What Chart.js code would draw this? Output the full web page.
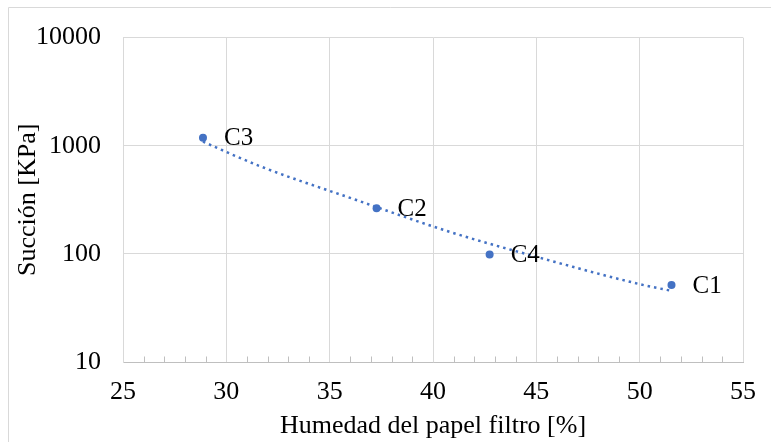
<!DOCTYPE html>
<html>
<head>
<meta charset="utf-8">
<script src="https://cdn.jsdelivr.net/npm/chart.js@4/dist/chart.umd.min.js"></script>
<style>
  html, body { margin: 0; padding: 0; background: #ffffff; }
  #wrap { width: 771px; height: 442px; position: relative; }
</style>
</head>
<body>
<div id="wrap"><canvas id="chart" width="771" height="442"></canvas></div>
<script>
// Muestras de papel filtro
const muestras = ['C1', 'C2', 'C3', 'C4'];
const humedad = [51.54, 37.27, 28.87, 42.74];   // %
const succion = [51.6, 264, 1186, 98.5];       // kPa

// Línea de tendencia (potencial), leída a lo largo de la curva
const tendenciaHumedad = [28.87, 31.6, 36.1, 40.8, 45.3, 50.2, 51.54];
const tendenciaSuccion = [1090, 650, 324, 160, 90.6, 51.4, 45.5];

// Ejes
const ejeXMarcasMenores = [26, 27, 28, 29, 31, 32, 33, 34, 36, 37, 38, 39, 41, 42, 43, 44, 46, 47, 48, 49, 51, 52, 53, 54];
const ejeYMarcas = [10, 100, 1000, 10000];

const FONT = "'Liberation Serif', 'Times New Roman', serif";
const AZUL = '#4472C4';
const GRID = '#d9d9d9';
const EJE = '#bfbfbf';

Chart.defaults.font.family = FONT;
Chart.defaults.color = '#000000';

// Marco exterior del gráfico
const marco = {
  id: 'marco',
  beforeDraw(chart) {
    const ctx = chart.ctx;
    ctx.save();
    ctx.strokeStyle = GRID;
    ctx.lineWidth = 1;
    ctx.beginPath();
    ctx.moveTo(8.5, chart.height + 2);
    ctx.lineTo(8.5, 7.5);
    ctx.lineTo(chart.width + 2, 7.5);
    ctx.stroke();
    ctx.restore();
  }
};

// Marcas menores del eje X, hacia dentro del área de trazado
const marcasMenores = {
  id: 'marcasMenores',
  afterDatasetsDraw(chart) {
    const x = chart.scales.x;
    const ctx = chart.ctx;
    const y0 = Math.round(chart.chartArea.bottom) + 0.5;
    ctx.save();
    ctx.strokeStyle = EJE;
    ctx.lineWidth = 1;
    ctx.beginPath();
    ejeXMarcasMenores.forEach(v => {
      const px = Math.round(x.getPixelForValue(v)) + 0.5;
      ctx.moveTo(px, y0);
      ctx.lineTo(px, y0 - 6);
    });
    ctx.stroke();
    ctx.restore();
  }
};

// Etiquetas de cada muestra a la derecha del punto
const etiquetas = {
  id: 'etiquetas',
  afterDatasetsDraw(chart) {
    const meta = chart.getDatasetMeta(1);
    const ctx = chart.ctx;
    ctx.save();
    ctx.font = '25px ' + FONT;
    ctx.fillStyle = '#000000';
    ctx.textAlign = 'left';
    ctx.textBaseline = 'middle';
    meta.data.forEach((pt, i) => {
      ctx.fillText(muestras[i], pt.x + 21, pt.y + 1);
    });
    ctx.restore();
  }
};

new Chart(document.getElementById('chart'), {
  type: 'scatter',
  data: {
    datasets: [
      {
        label: 'Potencial',
        data: tendenciaHumedad.map((h, i) => ({ x: h, y: tendenciaSuccion[i] })),
        showLine: true,
        borderColor: AZUL,
        borderWidth: 2.5,
        borderDash: [2.5, 4],
        cubicInterpolationMode: 'monotone',
        pointRadius: 0,
        fill: false
      },
      {
        label: 'Succión',
        data: humedad.map((h, i) => ({ x: h, y: succion[i] })),
        showLine: false,
        pointRadius: 4,
        pointBackgroundColor: AZUL,
        pointBorderColor: AZUL,
        pointBorderWidth: 0
      }
    ]
  },
  options: {
    responsive: false,
    animation: false,
    events: [],
    layout: { padding: { left: 0, top: 37, right: 27, bottom: 0 } },
    plugins: {
      legend: { display: false },
      tooltip: { enabled: false }
    },
    scales: {
      x: {
        type: 'linear',
        min: 25,
        max: 55,
        ticks: { stepSize: 5, font: { size: 26 }, color: '#000000', padding: 15 },
        grid: { color: GRID, drawTicks: false },
        border: { color: EJE },
        title: {
          display: true,
          text: 'Humedad del papel filtro [%]',
          font: { size: 26 },
          color: '#000000',
          padding: { top: 0, bottom: 0 }
        },
        afterFit(scale) { scale.height = 80; }
      },
      y: {
        type: 'logarithmic',
        min: 10,
        max: 10000,
        afterBuildTicks(scale) { scale.ticks = ejeYMarcas.map(v => ({ value: v })); },
        ticks: {
          font: { size: 26 },
          color: '#000000',
          padding: 22,
          callback: v => String(v)
        },
        grid: { color: GRID, drawTicks: false },
        border: { color: GRID },
        title: {
          display: true,
          text: 'Succión [KPa]',
          font: { size: 26 },
          color: '#000000',
          padding: { top: 13, bottom: 0 }
        },
        afterFit(scale) { scale.width = 123; }
      }
    }
  },
  plugins: [marco, marcasMenores, etiquetas]
});
</script>
</body>
</html>
